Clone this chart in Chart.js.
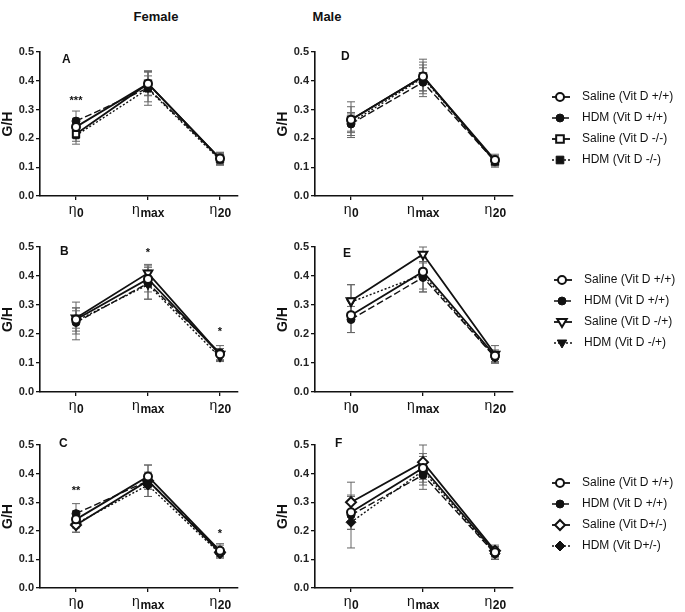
<!DOCTYPE html>
<html><head><meta charset="utf-8">
<script src="https://cdn.jsdelivr.net/npm/chart.js@4.4.1/dist/chart.umd.min.js"></script>
<style>
body{margin:0;background:#fff;width:685px;height:612px;position:relative;overflow:hidden;font-family:"Liberation Sans",Arial,sans-serif}
canvas{position:absolute}
.t{position:absolute;font-weight:bold;font-size:13px;color:#111;transform:translateX(-50%)}
</style></head>
<body>
<div class="t" style="left:156px;top:9px">Female</div>
<div class="t" style="left:327px;top:9px">Male</div>
<canvas id="cA"></canvas><canvas id="cD"></canvas>
<canvas id="cB"></canvas><canvas id="cE"></canvas>
<canvas id="cC"></canvas><canvas id="cF"></canvas>
<script>
// ---- data ----
const xBase = 'η';
const xSubs = ['0', 'max', '20'];
const yTicks = [0.0, 0.1, 0.2, 0.3, 0.4, 0.5];

const namesKO  = ['Saline (Vit D +/+)', 'HDM (Vit D +/+)', 'Saline (Vit D -/-)', 'HDM (Vit D -/-)'];
const namesMIX = ['Saline (Vit D +/+)', 'HDM (Vit D +/+)', 'Saline (Vit D -/+)', 'HDM (Vit D -/+)'];
const namesHET = ['Saline (Vit D +/+)', 'HDM (Vit D +/+)', 'Saline (Vit D+/-)', 'HDM (Vit D+/-)'];

// Female A
const A_vals = [[0.240, 0.390, 0.130], [0.260, 0.375, 0.130], [0.215, 0.390, 0.130], [0.210, 0.372, 0.125]];
const A_errs = [[0.030, 0.040, 0.020], [0.035, 0.060, 0.022], [0.025, 0.042, 0.018], [0.030, 0.045, 0.018]];
// Male D
const D_vals = [[0.265, 0.415, 0.125], [0.250, 0.395, 0.120], [0.265, 0.415, 0.120], [0.255, 0.410, 0.120]];
const D_errs = [[0.062, 0.060, 0.020], [0.040, 0.050, 0.015], [0.045, 0.050, 0.020], [0.030, 0.045, 0.015]];
// Female B
const B_vals = [[0.250, 0.390, 0.130], [0.240, 0.375, 0.135], [0.255, 0.410, 0.130], [0.245, 0.370, 0.120]];
const B_errs = [[0.040, 0.045, 0.020], [0.040, 0.055, 0.025], [0.035, 0.030, 0.020], [0.065, 0.050, 0.015]];
// Male E
const E_vals = [[0.265, 0.415, 0.125], [0.250, 0.395, 0.120], [0.315, 0.475, 0.130], [0.310, 0.405, 0.120]];
const E_errs = [[0.060, 0.060, 0.020], [0.045, 0.050, 0.020], [0.055, 0.025, 0.030], [0.060, 0.060, 0.020]];
// Female C
const C_vals = [[0.240, 0.390, 0.130], [0.260, 0.375, 0.130], [0.220, 0.375, 0.125], [0.225, 0.360, 0.120]];
const C_errs = [[0.030, 0.040, 0.020], [0.035, 0.055, 0.025], [0.025, 0.030, 0.015], [0.030, 0.040, 0.015]];
// Male F
const F_vals = [[0.265, 0.420, 0.125], [0.255, 0.395, 0.120], [0.300, 0.440, 0.130], [0.230, 0.410, 0.120]];
const F_errs = [[0.060, 0.050, 0.020], [0.050, 0.050, 0.020], [0.070, 0.060, 0.020], [0.090, 0.050, 0.020]];

// significance marks: category index, text, value level
const A_stars = [{i: 0, text: '***', v: 0.345}];
const B_stars = [{i: 1, text: '*', v: 0.492}, {i: 2, text: '*', v: 0.222}];
const C_stars = [{i: 0, text: '**', v: 0.352}, {i: 2, text: '*', v: 0.202}];

// ---- styles ----
const koShapes = {KO: 'rect', MIX: 'triangle', HET: 'rectRot'};
function seriesStyle(k, shape) {
  const base = {borderColor: '#111', pointBorderColor: '#111', fill: false, tension: 0};
  if (k === 0) return Object.assign(base, {borderWidth: 1.8, borderDash: [], pointStyle: 'circle', pointRadius: 4, pointBackgroundColor: '#fff', pointBorderWidth: 2});
  if (k === 1) return Object.assign(base, {borderWidth: 1.4, borderDash: [7, 3], pointStyle: 'circle', pointRadius: 4, pointBackgroundColor: '#111', pointBorderWidth: 1});
  const rot = shape === 'triangle' ? 180 : 0;
  if (k === 2) return Object.assign(base, {borderWidth: 1.8, borderDash: [], pointStyle: shape, pointRotation: rot, pointRadius: shape === 'rect' ? 4.5 : 5, pointBackgroundColor: '#fff', pointBorderWidth: 2});
  return Object.assign(base, {borderWidth: 1.4, borderDash: [2, 2], pointStyle: shape, pointRotation: rot, pointRadius: shape === 'rect' ? 4.5 : 5, pointBackgroundColor: '#111', pointBorderWidth: 1});
}

// ---- plugins ----
const errorBarPlugin = {
  id: 'errbars',
  beforeDatasetsDraw(chart) {
    const ctx = chart.ctx, xs = chart.scales.x, ys = chart.scales.y;
    const errs = chart.options.plugins.errbars.errors;
    ctx.save();
    ctx.strokeStyle = '#666'; ctx.lineWidth = 1;
    chart.data.datasets.forEach((ds, d) => {
      ds.data.forEach((p, j) => {
        const e = errs[d][j];
        const x = xs.getPixelForValue(p.x);
        const y1 = ys.getPixelForValue(p.y + e), y2 = ys.getPixelForValue(p.y - e);
        ctx.beginPath();
        ctx.moveTo(x, y1); ctx.lineTo(x, y2);
        ctx.moveTo(x - 4, y1); ctx.lineTo(x + 4, y1);
        ctx.moveTo(x - 4, y2); ctx.lineTo(x + 4, y2);
        ctx.stroke();
      });
    });
    ctx.restore();
  }
};

function drawMarker(ctx, style, rot, r, x, y, fill) {
  ctx.save();
  ctx.translate(x, y);
  ctx.rotate(rot * Math.PI / 180);
  ctx.beginPath();
  if (style === 'circle') ctx.arc(0, 0, r, 0, Math.PI * 2);
  else if (style === 'rect') { ctx.rect(-r * 0.85, -r * 0.85, r * 1.7, r * 1.7); }
  else if (style === 'rectRot') { ctx.moveTo(0, -r); ctx.lineTo(r, 0); ctx.lineTo(0, r); ctx.lineTo(-r, 0); ctx.closePath(); }
  else if (style === 'triangle') { ctx.moveTo(0, -r); ctx.lineTo(r * 0.95, r * 0.6); ctx.lineTo(-r * 0.95, r * 0.6); ctx.closePath(); }
  ctx.fillStyle = fill; ctx.fill();
  ctx.stroke();
  ctx.restore();
}

const annotPlugin = {
  id: 'annot',
  afterDraw(chart) {
    const o = chart.options.plugins.annot;
    const ctx = chart.ctx, xs = chart.scales.x, ys = chart.scales.y, ca = chart.chartArea;
    ctx.save();
    ctx.fillStyle = '#111';
    // x tick labels with subscripts
    xSubs.forEach((s, i) => {
      const px = xs.getPixelForValue(i);
      ctx.font = '14px "Liberation Sans", Arial, sans-serif';
      const w1 = ctx.measureText(xBase).width;
      ctx.font = 'bold 12px "Liberation Sans", Arial, sans-serif';
      const w2 = ctx.measureText(s).width;
      const x0 = px - (w1 + w2) / 2;
      ctx.textBaseline = 'alphabetic'; ctx.textAlign = 'left';
      ctx.font = '14px "Liberation Sans", Arial, sans-serif';
      ctx.fillText(xBase, x0, ca.bottom + 18);
      ctx.font = 'bold 12px "Liberation Sans", Arial, sans-serif';
      ctx.fillText(s, x0 + w1 + 0.5, ca.bottom + 21);
    });
    // panel letter
    ctx.font = 'bold 12px "Liberation Sans", Arial, sans-serif';
    ctx.textAlign = 'left'; ctx.textBaseline = 'middle';
    ctx.fillText(o.letter, ca.left + o.letterDx, ca.top + o.letterDy);
    // significance stars
    ctx.font = 'bold 11px "Liberation Sans", Arial, sans-serif';
    ctx.textAlign = 'center';
    (o.stars || []).forEach(s => {
      ctx.fillText(s.text, xs.getPixelForValue(s.i), ys.getPixelForValue(s.v) + 4);
    });
    // legend
    if (o.legend) {
      const lx = ca.right + o.legend.dx, ly0 = ca.top + o.legend.dy;
      chart.data.datasets.forEach((ds, k) => {
        const y = ly0 + k * 21;
        ctx.strokeStyle = '#111';
        ctx.lineWidth = ds.borderWidth;
        ctx.setLineDash(ds.borderDash);
        ctx.beginPath(); ctx.moveTo(lx, y); ctx.lineTo(lx + 18, y); ctx.stroke();
        ctx.setLineDash([]);
        ctx.lineWidth = ds.pointBorderWidth;
        drawMarker(ctx, ds.pointStyle, ds.pointRotation || 0, ds.pointRadius, lx + 8, y, ds.pointBackgroundColor);
        ctx.fillStyle = '#111';
        ctx.font = '12px "Liberation Sans", Arial, sans-serif';
        ctx.textAlign = 'left'; ctx.textBaseline = 'middle';
        ctx.fillText(ds.label, lx + 30, y);
      });
    }
    ctx.restore();
  }
};

// ---- panels ----
function makePanel(id, pos, names, vals, errs, shape, extra) {
  const el = document.getElementById(id);
  el.width = pos.w; el.height = pos.h;
  el.style.left = pos.left + 'px'; el.style.top = pos.top + 'px';
  el.style.width = pos.w + 'px'; el.style.height = pos.h + 'px';
  const datasets = names.map((n, k) => Object.assign({
    label: n,
    data: vals[k].map((v, j) => ({x: j, y: v}))
  }, seriesStyle(k, shape)));
  const axisCommon = {
    grid: {drawOnChartArea: false, drawTicks: true, tickLength: 4, color: '#111', lineWidth: 1.3},
    border: {display: true, color: '#111', width: 1.6}
  };
  new Chart(el, {
    type: 'line',
    data: {datasets},
    options: {
      responsive: false, animation: false, devicePixelRatio: 1,
      layout: {padding: {top: 12, left: 0, right: pos.padRight, bottom: 0}},
      plugins: {
        legend: {display: false}, tooltip: {enabled: false},
        errbars: {errors: errs},
        annot: extra
      },
      scales: {
        x: Object.assign({
          type: 'linear', min: -0.5, max: 2.25,
          afterBuildTicks: s => { s.ticks = xSubs.map((_, i) => ({value: i})); },
          ticks: {display: false},
          afterFit: s => { s.height = 22; }
        }, axisCommon),
        y: Object.assign({
          min: 0, max: 0.5,
          afterBuildTicks: s => { s.ticks = yTicks.map(v => ({value: v})); },
          ticks: {callback: v => v.toFixed(1), font: {size: 11, weight: 'bold', family: '"Liberation Sans", Arial, sans-serif'}, color: '#222', padding: 2},
          title: {display: true, text: 'G/H', font: {size: 14, weight: 'bold', family: '"Liberation Sans", Arial, sans-serif'}, color: '#111', padding: {top: 0, bottom: 0}},
          afterFit: s => { s.width = 40; }
        }, axisCommon)
      }
    },
    plugins: [errorBarPlugin, annotPlugin]
  });
}

const fem = {left: 0, w: 245, padRight: 7};
const mal = {left: 275, w: 410, padRight: 172};
makePanel('cA', Object.assign({top: 40, h: 178}, fem), namesKO, A_vals, A_errs, koShapes.KO,
  {letter: 'A', letterDx: 22, letterDy: 8, stars: A_stars});
makePanel('cD', Object.assign({top: 40, h: 178}, mal), namesKO, D_vals, D_errs, koShapes.KO,
  {letter: 'D', letterDx: 26, letterDy: 5, legend: {dx: 39, dy: 45}});
makePanel('cB', Object.assign({top: 235, h: 179}, fem), namesMIX, B_vals, B_errs, koShapes.MIX,
  {letter: 'B', letterDx: 20, letterDy: 5, stars: B_stars});
makePanel('cE', Object.assign({top: 235, h: 179}, mal), namesMIX, E_vals, E_errs, koShapes.MIX,
  {letter: 'E', letterDx: 28, letterDy: 7, legend: {dx: 41, dy: 33}});
makePanel('cC', Object.assign({top: 433, h: 177}, fem), namesHET, C_vals, C_errs, koShapes.HET,
  {letter: 'C', letterDx: 19, letterDy: -1, stars: C_stars});
makePanel('cF', Object.assign({top: 433, h: 177}, mal), namesHET, F_vals, F_errs, koShapes.HET,
  {letter: 'F', letterDx: 20, letterDy: -1, legend: {dx: 39, dy: 38}});
</script>
</body></html>
